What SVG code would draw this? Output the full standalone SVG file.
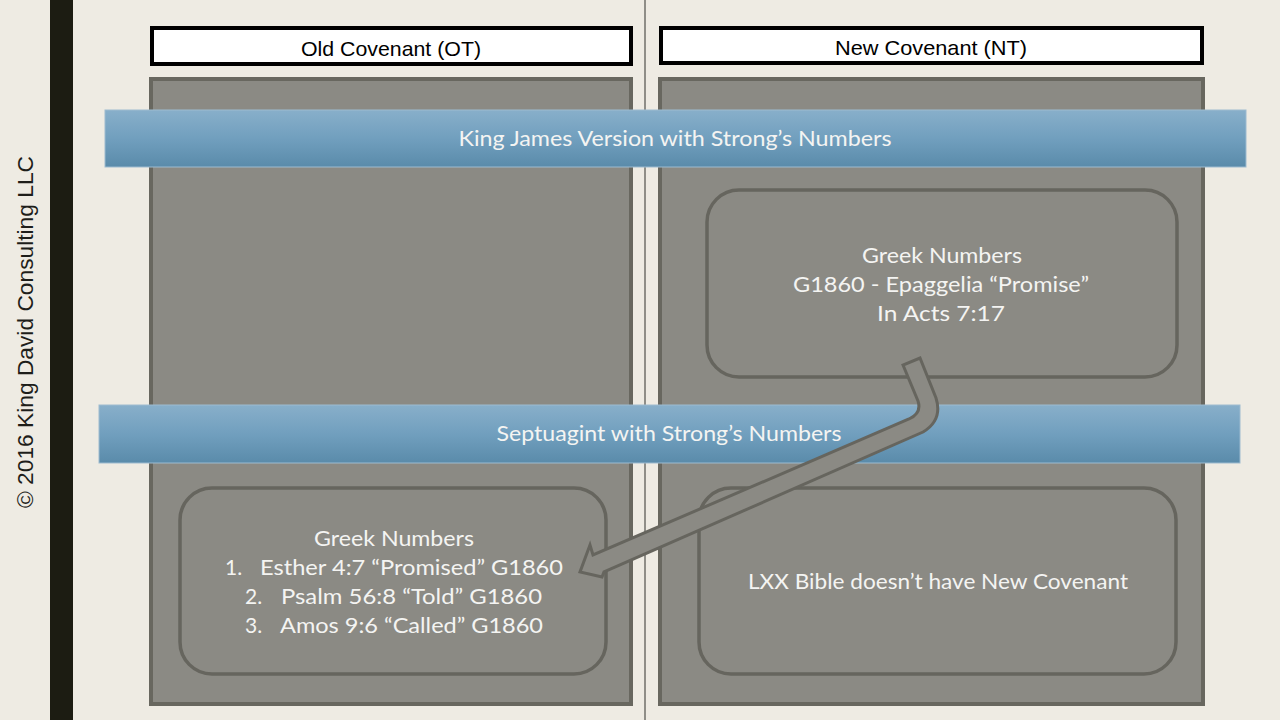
<svg xmlns="http://www.w3.org/2000/svg" width="1280" height="720" viewBox="0 0 1280 720">
<defs>
<linearGradient id="band" x1="0" y1="0" x2="0" y2="1">
<stop offset="0" stop-color="#88AFCA"/>
<stop offset="0.5" stop-color="#719FBE"/>
<stop offset="1" stop-color="#5A8BAA"/>
</linearGradient>
<style>
.panel{fill:#8B8A84;stroke:#68675F;stroke-width:4}
.head{fill:#FFFFFF;stroke:#000000;stroke-width:4}
.node{fill:#8B8A84;stroke:#66655E;stroke-width:3.5}
.band{fill:url(#band);stroke:#9DBBD0;stroke-width:1}
.ht{font-family:"Liberation Sans Narrow","Liberation Sans",Arial,sans-serif;font-size:21px;fill:#000000;text-anchor:middle}
.t{font-family:Lato,"Noto Sans","Liberation Sans",sans-serif;font-size:21px;fill:#F4F4F2;text-anchor:middle}
.tl{font-family:Lato,"Noto Sans","Liberation Sans",sans-serif;font-size:21px;fill:#F4F4F2}
.copy{font-family:"Liberation Sans",Arial,sans-serif;font-size:22px;fill:#1E1E1A;text-anchor:middle}
.arrow{fill:#8B8A84;stroke:#66655E;stroke-width:3;stroke-linejoin:miter}
</style>
</defs>
<rect x="0" y="0" width="1280" height="720" fill="#EEEBE3"/>
<rect id="sidebar" x="50" y="0" width="23" height="720" fill="#1C1C12"/>
<text class="copy" transform="translate(33,332) rotate(-90)" textLength="352" lengthAdjust="spacingAndGlyphs">© 2016 King David Consulting LLC</text>
<line id="divider" x1="645" y1="0" x2="645" y2="720" stroke="#8F8E88" stroke-width="2"/>

<g id="ot-panel"><rect class="panel" x="151" y="79" width="480" height="625"/></g>
<g id="nt-panel"><rect class="panel" x="660" y="79" width="543" height="625"/></g>

<g id="ot-header"><rect class="head" x="152" y="28" width="479" height="36"/><text class="ht" x="391" y="56" textLength="180" lengthAdjust="spacingAndGlyphs">Old Covenant (OT)</text></g>
<g id="nt-header"><rect class="head" x="661" y="28" width="541" height="35"/><text class="ht" x="931" y="55" textLength="192" lengthAdjust="spacingAndGlyphs">New Covenant (NT)</text></g>

<g id="nt-greek"><rect class="node" x="707" y="190" width="470" height="187" rx="32" ry="32"/>
<text class="t" x="942" y="263" textLength="160" lengthAdjust="spacingAndGlyphs">Greek Numbers</text>
<text class="t" x="941" y="292" textLength="296" lengthAdjust="spacingAndGlyphs">G1860 - Epaggelia “Promise”</text>
<text class="t" x="941" y="321" textLength="128" lengthAdjust="spacingAndGlyphs">In Acts 7:17</text></g>

<g id="kjv-band"><rect class="band" x="105" y="110" width="1141" height="57"/>
<text class="t" x="675" y="146" textLength="433" lengthAdjust="spacingAndGlyphs" fill="#FFFFFF">King James Version with Strong’s Numbers</text></g>

<g id="lxx-band"><rect class="band" x="99" y="405" width="1141" height="58"/>
<text class="t" x="669" y="441" textLength="345" lengthAdjust="spacingAndGlyphs">Septuagint with Strong’s Numbers</text></g>

<g id="ot-greek"><rect class="node" x="180" y="488" width="426" height="186" rx="32" ry="32"/>
<text class="t" x="394" y="546" textLength="160" lengthAdjust="spacingAndGlyphs">Greek Numbers</text>
<text class="tl" x="225" y="575">1.</text><text class="tl" x="260" y="575" textLength="303" lengthAdjust="spacingAndGlyphs">Esther 4:7 “Promised” G1860</text>
<text class="tl" x="245" y="604">2.</text><text class="tl" x="281" y="604" textLength="261" lengthAdjust="spacingAndGlyphs">Psalm 56:8 “Told” G1860</text>
<text class="tl" x="245" y="633">3.</text><text class="tl" x="280" y="633" textLength="263" lengthAdjust="spacingAndGlyphs">Amos 9:6 “Called” G1860</text></g>

<g id="nt-lxx"><rect class="node" x="699" y="488" width="477" height="186" rx="32" ry="32"/>
<text class="t" x="938" y="589" textLength="380" lengthAdjust="spacingAndGlyphs">LXX Bible doesn’t have New Covenant</text></g>

<g id="connectors">
<path class="arrow" d="M903,365 L918,401 Q922,413 909,419 L593,555 L590,545 L580,572 L602,577 L604,572 L923,432 Q943,420 936,398 L920,358 Z"/>
</g>
</svg>
